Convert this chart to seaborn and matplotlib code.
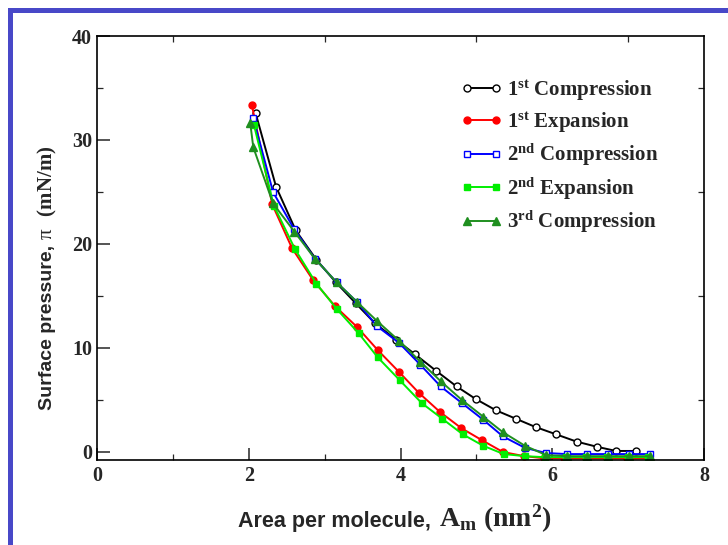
import numpy as np
import pandas as pd
import matplotlib
matplotlib.use("Agg")
import matplotlib.pyplot as plt
import seaborn as sns
from matplotlib.patches import Rectangle
from matplotlib.ticker import MultipleLocator

# ---- data ----
c1_x = [2.09, 2.36, 2.62, 2.89, 3.15, 3.41, 3.66, 3.94, 4.19, 4.47, 4.74, 4.99, 5.26, 5.52, 5.78, 6.05, 6.32, 6.59, 6.84, 7.10]
c1_y = [32.6, 25.5, 21.3, 18.5, 16.3, 14.3, 12.4, 10.8, 9.4, 7.8, 6.3, 5.1, 4.0, 3.2, 2.4, 1.7, 1.0, 0.5, 0.1, 0.1]

e1_x = [2.04, 2.31, 2.57, 2.85, 3.14, 3.43, 3.70, 3.98, 4.24, 4.52, 4.80, 5.07, 5.35, 5.63, 5.89, 6.16, 6.44, 6.72, 6.99, 7.28]
e1_y = [33.4, 23.8, 19.6, 16.5, 14.0, 12.0, 9.8, 7.7, 5.7, 3.85, 2.3, 1.15, 0.0, -0.4, -0.6, -0.6, -0.6, -0.6, -0.6, -0.6]

c2_x = [2.06, 2.32, 2.60, 2.87, 3.16, 3.43, 3.69, 3.98, 4.26, 4.53, 4.81, 5.09, 5.35, 5.64, 5.92, 6.19, 6.46, 6.73, 7.01, 7.29]
c2_y = [32.1, 25.0, 21.4, 18.6, 16.3, 14.4, 12.1, 10.5, 8.4, 6.3, 4.7, 3.1, 1.5, 0.4, -0.1, -0.2, -0.2, -0.2, -0.2, -0.2]

e2_x = [2.07, 2.33, 2.61, 2.89, 3.16, 3.45, 3.70, 3.99, 4.28, 4.55, 4.82, 5.09, 5.36, 5.64, 5.90, 6.18, 6.44, 6.72, 7.00, 7.26]
e2_y = [31.4, 23.7, 19.5, 16.2, 13.75, 11.4, 9.1, 6.9, 4.7, 3.2, 1.7, 0.6, -0.2, -0.4, -0.5, -0.5, -0.5, -0.5, -0.5, -0.5]

c3_x = [2.02, 2.06, 2.32, 2.60, 2.87, 3.16, 3.43, 3.69, 3.98, 4.26, 4.53, 4.81, 5.09, 5.35, 5.64, 5.92, 6.19, 6.46, 6.73, 7.01, 7.29]
c3_y = [31.6, 29.3, 23.9, 21.2, 18.6, 16.3, 14.4, 12.6, 10.7, 8.7, 6.8, 5.0, 3.4, 1.9, 0.6, -0.3, -0.4, -0.4, -0.4, -0.4, -0.4]

labels = [r"1$^{\mathrm{st}}$ Compression", r"1$^{\mathrm{st}}$ Expansion",
          r"2$^{\mathrm{nd}}$ Compression", r"2$^{\mathrm{nd}}$ Expansion",
          r"3$^{\mathrm{rd}}$ Compression"]
x_ticks = [0, 2, 4, 6, 8]
y_ticks = [0, 10, 20, 30, 40]
xlabel_sans = "Area per molecule,"
xlabel_serif = r"$\mathrm{A_m\ (nm^2)}$"
ylabel_sans = "Surface pressure,"
ylabel_serif = r"$\pi$  $\mathrm{(mN/m)}$"

sns.set_style("ticks")
plt.rcParams["mathtext.fontset"] = "custom"
plt.rcParams["mathtext.rm"] = "Liberation Serif:bold"
plt.rcParams["mathtext.it"] = "Liberation Serif"
plt.rcParams["mathtext.bf"] = "Liberation Serif:bold"

W, H = 728, 545
fig = plt.figure(figsize=(W/100, H/100), dpi=100)
ax = fig.add_axes([97/W, 1-460/H, (704-97)/W, (460-36)/H])

series = [
    (c1_x, c1_y, "black", "o", "white", 5.0),
    (e1_x, e1_y, "#ff0000", "o", "#ff0000", 5.0),
    (c2_x, c2_y, "#0000ff", "s", "white", 5.0),
    (e2_x, e2_y, "#00ee00", "s", "#00ee00", 5.0),
    (c3_x, c3_y, "#1f8f1f", "^", "#1f8f1f", 5.5),
]
for (xs, ys, col, mk, mfc, ms), lab in zip(series, labels):
    sns.lineplot(x=xs, y=ys, ax=ax, sort=False, estimator=None, color=col,
                 marker=mk, markersize=ms, markerfacecolor=mfc, markeredgecolor=col,
                 markeredgewidth=1.0, linewidth=1.4, label=lab)

ax.set_xlim(0, 8)
ax.set_ylim(-0.77, 40)
ax.set_xticks(x_ticks)
ax.set_yticks(y_ticks)
ax.xaxis.set_minor_locator(MultipleLocator(1))
ax.yaxis.set_minor_locator(MultipleLocator(5))
ax.tick_params(which="major", direction="in", length=9, width=1.1, top=False, right=False)
ax.tick_params(which="minor", direction="in", length=4, width=0.9, top=True, right=True)
ax.set_xticklabels([str(v) for v in x_ticks], fontfamily="Liberation Serif",
                   fontweight="bold", fontsize=14.5)
ax.set_yticklabels([str(v) for v in y_ticks], fontfamily="Liberation Serif",
                   fontweight="bold", fontsize=14.5)
ax.tick_params(axis="x", pad=4)
for s in ax.spines.values():
    s.set_linewidth(1.2)
    s.set_color("black")
ax.set_xlabel("")
ax.set_ylabel("")

leg = ax.legend(loc="upper left", bbox_to_anchor=(0.585, 0.92), frameon=False,
                prop={"family": "Liberation Serif", "weight": "bold", "size": 15},
                numpoints=2, handlelength=2.0, handletextpad=0.25, labelspacing=0.34,
                borderaxespad=0)

# axis labels: sans-serif part followed by a serif part
fig.canvas.draw()
r = fig.canvas.get_renderer()
tx = fig.text(238/W, 1-527/H, xlabel_sans, fontfamily="Liberation Sans",
              fontweight="bold", fontsize=15.5, ha="left", va="baseline")
bb = tx.get_window_extent(r)
fig.text((bb.x1 + 8)/W, 1-527/H, xlabel_serif, fontsize=20, ha="left", va="baseline")

ty = fig.text(52/W, 1-410/H, ylabel_sans, fontfamily="Liberation Sans",
              fontweight="bold", fontsize=14, rotation=90, rotation_mode="anchor",
              ha="left", va="baseline")
bb = ty.get_window_extent(r)
fig.text(52/W, (bb.y1 + 5)/H, ylabel_serif, fontsize=15, rotation=90,
         rotation_mode="anchor", ha="left", va="baseline")

# blue border of the slide
fig.patches.append(Rectangle((8/W, 0), 5/W, 1-8/H, transform=fig.transFigure,
                             facecolor="#4848c8", edgecolor="none"))
fig.patches.append(Rectangle((8/W, 1-13/H), 1, 5/H, transform=fig.transFigure,
                             facecolor="#4848c8", edgecolor="none"))

fig.savefig("out.png", dpi=100)
